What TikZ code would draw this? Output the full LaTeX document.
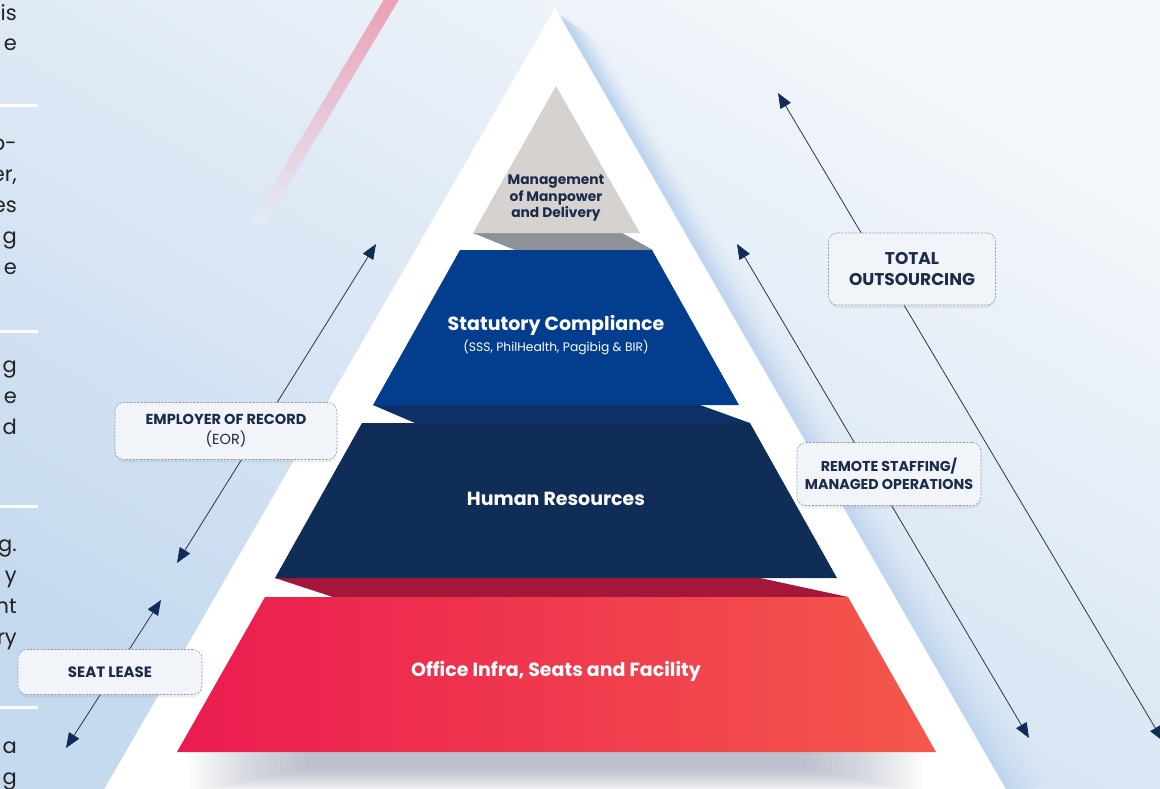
\documentclass[tikz,border=0pt]{standalone}
\usepackage{fontspec}
\setmainfont{Poppins}
\usetikzlibrary{arrows.meta,shadows}
\definecolor{bgtop}{HTML}{F4F7FB}
\definecolor{bgbottom}{HTML}{C5D9EF}
\definecolor{bgmid}{HTML}{E3ECF7}
\definecolor{glowblue}{HTML}{A6C5EA}
\definecolor{stripepink}{HTML}{EB9FB4}
\definecolor{capgray}{HTML}{D5D2CF}
\definecolor{capside}{HTML}{8C9298}
\definecolor{tierblue}{HTML}{033E8E}
\definecolor{blueside}{HTML}{0C3169}
\definecolor{tiernavy}{HTML}{0F2D57}
\definecolor{crimson}{HTML}{A5173A}
\definecolor{redleft}{HTML}{EB1B50}
\definecolor{redright}{HTML}{F4584B}
\definecolor{inkblue}{HTML}{1C2B4A}
\definecolor{linegray}{HTML}{2A3448}
\definecolor{boxfill}{HTML}{F1F4F9}
\definecolor{boxedge}{HTML}{8E98A9}
\definecolor{shadowgray}{HTML}{9AA2B8}
\definecolor{fragink}{HTML}{222222}

\begin{document}
\begin{tikzpicture}[
  x=1pt, y=-1pt,
  >={Triangle[length=15pt,width=12pt,color=tiernavy]},
  tierlabel/.style={text=white, inner sep=0pt, font=\bfseries\fontsize{19}{22}\selectfont},
  callout/.style={rectangle, rounded corners=9pt, draw=boxedge, dash pattern=on 2pt off 1.5pt, line width=0.6pt, fill=boxfill, text=inkblue, align=center, inner sep=2pt, drop shadow={opacity=0.12, shadow xshift=0pt, shadow yshift=-3pt}},
  span/.style={<->, draw=linegray, line width=0.8pt},
  frag/.style={anchor=base east, inner sep=0pt, text=fragink, font=\fontsize{21}{21}\selectfont}
]
  \useasboundingbox (0,0) rectangle (1160,788);
  \clip (0,0) rectangle (1160,788);
  \shade[top color=bgtop, bottom color=bgbottom, shading angle=-30] (0,0) rectangle (1160,788);

  % pink streak
  \shade[top color=stripepink, middle color=stripepink!45!bgmid, bottom color=bgmid] (386,-4) -- (401,-4) -- (265,224) -- (250,224) -- cycle;

  % blue glow beside the right flank
  \foreach \d in {0,...,15}
    \draw[glowblue, line width=3.2pt, opacity={0.45*(1-\d/16)*(1-\d/16)}]
      ({560+0.866*(1.5+3*\d)},{17+1.7*\d}) -- ({1012+0.866*(1.5+3*\d)},{800-0.5*(1.5+3*\d)});

  \fill[white] (555,8) -- (1012,800) -- (98,800) -- cycle;

  % soft shadow under the base
  \foreach \i in {0,...,23}
    \fill[shadowgray, opacity=0.035] ({190+\i*5},752) rectangle ({922-\i*5},{792-\i});

  % side faces
  \fill[capside] (473,233) -- (622,233) -- (653,250) -- (515,250) -- cycle;
  \fill[blueside] (373,405) -- (700,405) -- (750,423) -- (415,423) -- cycle;
  \fill[crimson] (275,578) -- (760,578) -- (848,597) -- (333,597) -- cycle;

  % tiers
  \fill[capgray] (556,86) -- (640,233) -- (473,233) -- cycle;
  \fill[tierblue] (460,250) -- (652,250) -- (739,405) -- (373,405) -- cycle;
  \fill[tiernavy] (362,423) -- (750,423) -- (837,578) -- (275,578) -- cycle;
  \shade[left color=redleft, right color=redright] (265,597) -- (848,597) -- (936,752) -- (177,752) -- cycle;

  \node[text=inkblue, align=center, inner sep=0pt, font=\bfseries\fontsize{13.8}{16.5}\selectfont] (mgmt) at (556,198) {Management\\of Manpower\\and Delivery};
  \node[tierlabel] (statutory) at (556,325) {Statutory Compliance};
  \node[tierlabel, font=\fontsize{12.3}{14}\selectfont] (statutorysub) at (556,347) {(SSS, PhilHealth, Pagibig \& BIR)};
  \node[tierlabel] (hr) at (556,499) {Human Resources};
  \node[tierlabel] (office) at (556,671) {Office Infra, Seats and Facility};

  % service spans
  \coordinate (eorTop) at (376,244);
  \coordinate (eorBot) at (177,563);
  \coordinate (seatTop) at (161,600);
  \coordinate (seatBot) at (66,748);
  \coordinate (remoteTop) at (737,244);
  \coordinate (remoteBot) at (1029,738);
  \coordinate (totalTop) at (778,93);
  \coordinate (totalBot) at (1163,741);
  \draw[span] (eorBot) -- (eorTop);
  \draw[span] (seatBot) -- (seatTop);
  \draw[span] (remoteTop) -- (remoteBot);
  \draw[span] (totalTop) -- (totalBot);

  \node[callout, minimum width=222pt, minimum height=57pt, font=\fontsize{14.5}{20}\selectfont] (eor) at (226,431) {\textbf{EMPLOYER OF RECORD}\\(EOR)};
  \node[callout, minimum width=184pt, minimum height=45pt, font=\bfseries\fontsize{15}{18}\selectfont] (seat) at (110,672) {SEAT LEASE};
  \node[callout, minimum width=167pt, minimum height=72pt, font=\bfseries\fontsize{17}{21}\selectfont] (total) at (912,269) {TOTAL\\OUTSOURCING};
  \node[callout, minimum width=184pt, minimum height=63pt, font=\bfseries\fontsize{14.3}{18}\selectfont] (remote) at (889,474) {REMOTE STAFFING/\\MANAGED OPERATIONS};

  % column edge
  \foreach \yl in {105,331,506,707}
    \draw[white, line width=3pt] (0,\yl) -- (38,\yl);
  \foreach \frag/\yb [count=\k] in {is/20, e/50, o-/150, {er,}/181, es/212, g/243, e/274, g/372, e/403, d/434, g./551, y/582, nt/613, ry/644, a/753, g/784}
    \node[frag] (frag\k) at (17,\yb) {\frag};
\end{tikzpicture}
\end{document}
